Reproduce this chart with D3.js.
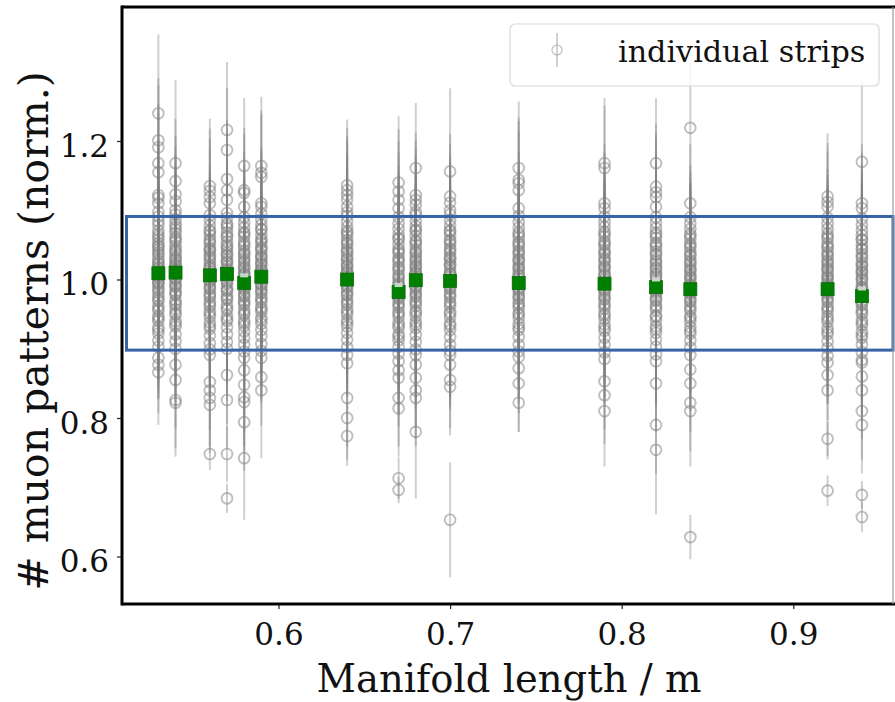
<!DOCTYPE html>
<html>
<head>
<meta charset="utf-8">
<script src="https://cdn.jsdelivr.net/npm/d3@7"></script>
<style>
  html, body { margin: 0; padding: 0; background: #fff; }
  svg { display: block; }
  text { font-family: "DejaVu Serif", serif; fill: #111; }
</style>
</head>
<body>
<svg id="chart" width="895" height="702"></svg>
<script>
// manifold lengths (m) of the measured strips
const lengths = [0.53, 0.54, 0.56, 0.57, 0.58, 0.59, 0.64, 0.67, 0.68, 0.70, 0.74, 0.79, 0.82, 0.84, 0.92, 0.94];

// mean per manifold (green squares)
const meanVals = [1.009, 1.010, 1.006, 1.008, 0.995, 1.004, 1.000, 0.982, 0.999, 0.998, 0.995, 0.994, 0.989, 0.986, 0.986, 0.976];
// second (lighter) marker visible on some manifolds
const altVals = [null, null, null, null, 1.006, null, null, 0.992, null, null, null, null, 1.000, null, null, 0.987];

// bulk of the individual strips per manifold
const coreVals = [
  [1.098,1.091,1.084,1.079,1.071,1.066,1.058,1.053,1.047,1.043,1.036,1.031,1.027,1.022,1.018,1.013,1.011,1.006,1.002,0.997,0.993,0.988,0.981,0.976,0.969,0.962,0.955,0.947,0.940,0.931,0.922,0.912,0.903,1.062,1.049,1.039,1.024,1.016,1.004,0.995,0.985,0.972,0.958,0.944,0.927],
  [1.094,1.087,1.080,1.072,1.067,1.061,1.055,1.049,1.044,1.038,1.033,1.028,1.024,1.019,1.015,1.012,1.008,1.003,0.999,0.994,0.989,0.983,0.978,0.970,0.963,0.957,0.949,0.940,0.932,0.921,0.911,0.900,1.076,1.058,1.041,1.030,1.021,1.010,1.001,0.991,0.980,0.966,0.952,0.936],
  [1.093,1.086,1.078,1.071,1.064,1.058,1.052,1.046,1.041,1.036,1.030,1.026,1.021,1.016,1.012,1.008,1.004,1.000,0.996,0.991,0.986,0.980,0.974,0.968,0.961,0.954,0.946,0.938,0.929,0.919,0.908,0.899,1.069,1.055,1.043,1.033,1.018,1.006,0.998,0.988,0.977,0.964,0.950,0.933],
  [1.096,1.089,1.081,1.074,1.068,1.061,1.055,1.050,1.044,1.039,1.034,1.029,1.024,1.019,1.015,1.011,1.007,1.003,0.999,0.994,0.988,0.983,0.977,0.971,0.964,0.956,0.948,0.940,0.931,0.921,0.910,0.900,1.078,1.063,1.047,1.036,1.026,1.013,1.005,0.996,0.985,0.973,0.959,0.943],
  [1.090,1.082,1.075,1.068,1.062,1.055,1.048,1.042,1.036,1.031,1.025,1.020,1.015,1.010,1.006,1.002,0.998,0.994,0.990,0.985,0.980,0.975,0.969,0.963,0.956,0.949,0.941,0.933,0.925,0.916,0.906,0.896,1.066,1.051,1.038,1.027,1.017,1.008,0.996,0.987,0.977,0.966,0.952,0.937],
  [1.095,1.087,1.079,1.072,1.065,1.059,1.053,1.047,1.042,1.036,1.031,1.026,1.021,1.016,1.012,1.008,1.004,1.000,0.995,0.991,0.986,0.980,0.974,0.967,0.960,0.953,0.945,0.936,0.927,0.918,0.907,0.897,1.073,1.056,1.044,1.033,1.023,1.014,1.002,0.993,0.983,0.971,0.957,0.941],
  [1.092,1.084,1.076,1.070,1.063,1.057,1.051,1.045,1.039,1.034,1.028,1.023,1.018,1.013,1.009,1.005,1.001,0.997,0.993,0.988,0.983,0.977,0.971,0.964,0.957,0.949,0.941,0.932,0.923,0.913,0.902,1.067,1.053,1.041,1.030,1.020,1.011,0.999,0.990,0.979,0.967,0.953,0.937],
  [1.090,1.081,1.073,1.065,1.058,1.051,1.044,1.038,1.031,1.025,1.019,1.013,1.007,1.001,0.996,0.991,0.986,0.982,0.977,0.972,0.966,0.960,0.953,0.946,0.938,0.930,0.921,0.912,0.903,0.893,0.882,1.060,1.041,1.028,1.016,1.004,0.993,0.984,0.974,0.963,0.950,0.934,0.917],
  [1.093,1.085,1.077,1.070,1.063,1.056,1.050,1.044,1.038,1.033,1.027,1.022,1.017,1.012,1.008,1.004,1.000,0.996,0.991,0.986,0.981,0.975,0.969,0.962,0.955,0.947,0.939,0.930,0.920,0.910,0.899,1.072,1.054,1.040,1.029,1.019,1.010,0.998,0.989,0.978,0.966,0.952,0.935],
  [1.094,1.086,1.078,1.071,1.064,1.057,1.051,1.045,1.039,1.033,1.028,1.023,1.018,1.013,1.008,1.004,1.000,0.996,0.991,0.986,0.980,0.974,0.968,0.961,0.953,0.945,0.936,0.927,0.917,0.906,0.897,1.069,1.055,1.042,1.031,1.021,1.009,0.998,0.988,0.977,0.965,0.950,0.933],
  [1.092,1.083,1.075,1.068,1.061,1.054,1.048,1.042,1.036,1.030,1.025,1.020,1.015,1.010,1.005,1.001,0.997,0.993,0.988,0.983,0.978,0.972,0.966,0.959,0.952,0.944,0.936,0.927,0.917,0.906,0.896,1.065,1.051,1.039,1.028,1.017,1.007,0.995,0.986,0.975,0.963,0.949,0.931],
  [1.091,1.083,1.076,1.069,1.062,1.055,1.049,1.043,1.037,1.031,1.026,1.020,1.015,1.010,1.005,1.000,0.996,0.992,0.987,0.982,0.977,0.971,0.965,0.958,0.951,0.943,0.935,0.926,0.916,0.906,0.895,1.066,1.052,1.039,1.028,1.018,1.007,0.994,0.985,0.974,0.962,0.948,0.930],
  [1.090,1.082,1.074,1.067,1.060,1.053,1.047,1.041,1.035,1.029,1.023,1.018,1.013,1.008,1.003,0.999,0.995,0.990,0.985,0.980,0.975,0.969,0.963,0.956,0.948,0.940,0.932,0.923,0.913,0.903,0.892,1.064,1.050,1.037,1.026,1.016,1.006,0.993,0.983,0.972,0.960,0.946,0.928],
  [1.090,1.081,1.073,1.066,1.059,1.052,1.046,1.040,1.034,1.028,1.022,1.017,1.012,1.007,1.002,0.998,0.993,0.989,0.984,0.979,0.974,0.968,0.962,0.955,0.947,0.939,0.931,0.922,0.912,0.902,0.891,1.063,1.049,1.036,1.025,1.014,1.004,0.991,0.981,0.970,0.958,0.944,0.926],
  [1.089,1.081,1.073,1.066,1.059,1.052,1.046,1.040,1.034,1.028,1.022,1.017,1.012,1.007,1.002,0.998,0.994,0.989,0.984,0.979,0.974,0.968,0.961,0.954,0.947,0.939,0.930,0.921,0.911,0.901,0.890,1.062,1.048,1.036,1.025,1.015,1.004,0.991,0.982,0.971,0.958,0.943,0.925],
  [1.088,1.079,1.071,1.064,1.057,1.050,1.043,1.037,1.031,1.025,1.019,1.014,1.009,1.004,0.999,0.994,0.989,0.985,0.980,0.975,0.969,0.963,0.957,0.950,0.942,0.934,0.925,0.916,0.906,0.895,0.884,1.058,1.045,1.033,1.021,1.011,1.001,0.988,0.978,0.966,0.953,0.938,0.920]
];
// typical error of a strip in the bulk, per manifold
const coreErr = [0.075, 0.075, 0.07, 0.075, 0.075, 0.075, 0.07, 0.075, 0.075, 0.08, 0.075, 0.075, 0.075, 0.075, 0.07, 0.08];

// outlying strips: [value, error]
const outliers = [
  [[1.240,.114],[1.201,.09],[1.191,.09],[1.168,.085],[1.155,.085],[1.122,.08],[1.118,.08],[1.110,.08],[.887,.06],[.877,.07],[.866,.076]],
  [[1.168,.12],[1.142,.09],[1.123,.085],[1.113,.08],[1.100,.08],[.877,.06],[.855,.07],[.826,.07],[.822,.078]],
  [[1.135,.097],[1.128,.09],[1.119,.085],[1.110,.08],[.891,.06],[.852,.07],[.840,.07],[.829,.07],[.819,.07],[.748,.023]],
  [[1.216,.098],[1.187,.09],[1.145,.085],[1.129,.085],[1.115,.08],[.862,.07],[.826,.07],[.748,.04],[.684,.021]],
  [[1.164,.098],[1.129,.09],[1.125,.085],[1.105,.08],[.887,.06],[.869,.065],[.848,.07],[.830,.07],[.823,.07],[.794,.07],[.742,.089]],
  [[1.164,.10],[1.154,.09],[1.148,.09],[1.110,.08],[1.105,.08],[.887,.06],[.859,.07],[.840,.098]],
  [[1.136,.095],[1.129,.09],[1.122,.085],[1.115,.085],[1.105,.08],[1.097,.08],[.891,.06],[.879,.065],[.829,.07],[.800,.06],[.774,.043]],
  [[1.140,.096],[1.127,.09],[1.115,.085],[1.103,.08],[.869,.065],[.858,.07],[.829,.07],[.814,.07],[.713,.03],[.696,.019]],
  [[1.161,.094],[1.122,.09],[1.115,.085],[1.108,.08],[1.098,.08],[.891,.06],[.877,.065],[.858,.07],[.840,.07],[.829,.07],[.780,.096]],
  [[1.156,.12],[1.120,.09],[1.111,.085],[1.100,.08],[.891,.06],[.877,.065],[.855,.07],[.845,.07],[.653,.083]],
  [[1.161,.096],[1.144,.09],[1.139,.09],[1.129,.085],[1.103,.08],[.888,.06],[.872,.065],[.850,.07],[.822,.042]],
  [[1.168,.094],[1.161,.09],[1.110,.085],[1.103,.08],[.885,.06],[.853,.07],[.833,.07],[.810,.08]],
  [[1.168,.094],[1.134,.09],[1.126,.085],[1.119,.085],[1.105,.08],[.882,.06],[.850,.07],[.790,.07],[.754,.093]],
  [[1.219,.094],[1.110,.085],[.870,.06],[.850,.07],[.822,.07],[.810,.08],[.628,.032]],
  [[1.120,.091],[1.112,.085],[1.105,.08],[.880,.06],[.862,.065],[.840,.10],[.770,.025],[.695,.022]],
  [[1.170,.118],[1.110,.085],[1.103,.08],[.880,.06],[.860,.065],[.840,.07],[.810,.07],[.790,.07],[.689,.02],[.657,.022]]
];

const xTicks = [0.6, 0.7, 0.8, 0.9];
const yTicks = [0.6, 0.8, 1.0, 1.2];
const bandY = [0.898, 1.091];   // highlighted region
const legendLabel = "individual strips";

const svg = d3.select("#chart");
const plotL = 122, plotR = 894, plotT = 7, plotB = 604;

const x = d3.scaleLinear().domain([0.5088, 0.9587]).range([plotL, plotR]);
const y = d3.scaleLinear().domain([0.5314, 1.3935]).range([plotB, plotT]);

// flatten strips into points
const pts = [];
lengths.forEach((len, i) => {
  coreVals[i].forEach(v => pts.push({ x: len, v: v, e: coreErr[i] }));
  outliers[i].forEach(o => pts.push({ x: len, v: o[0], e: o[1] }));
});

const plot = svg.append("g");

plot.append("g").selectAll("line")
  .data(pts)
  .enter().append("line")
  .attr("x1", d => x(d.x)).attr("x2", d => x(d.x))
  .attr("y1", d => y(d.v + d.e)).attr("y2", d => y(d.v - d.e))
  .attr("stroke", "#808080")
  .attr("stroke-opacity", 0.38)
  .attr("stroke-width", 2);

plot.append("g").selectAll("circle")
  .data(pts)
  .enter().append("circle")
  .attr("cx", d => x(d.x)).attr("cy", d => y(d.v))
  .attr("r", 5.4)
  .attr("fill", "none")
  .attr("stroke", "#808080")
  .attr("stroke-opacity", 0.5)
  .attr("stroke-width", 1.9);

// means
plot.append("g").selectAll("rect")
  .data(lengths.map((len, i) => ({ x: len, v: meanVals[i] })))
  .enter().append("rect")
  .attr("x", d => x(d.x) - 6.5).attr("y", d => y(d.v) - 6.5)
  .attr("width", 13).attr("height", 13)
  .attr("fill", "#008000")
  .attr("stroke", "#0a6e0a").attr("stroke-width", 0.8);

plot.append("g").selectAll("rect")
  .data(lengths.map((len, i) => ({ x: len, v: altVals[i] })).filter(d => d.v !== null))
  .enter().append("rect")
  .attr("x", d => x(d.x) - 4).attr("y", d => y(d.v) - 2)
  .attr("width", 8).attr("height", 4)
  .attr("fill", "#c7d8c7");

// highlighted band
svg.append("rect")
  .attr("x", plotL + 4.5).attr("y", y(bandY[1]))
  .attr("width", plotR - 1 - (plotL + 4.5))
  .attr("height", y(bandY[0]) - y(bandY[1]))
  .attr("fill", "none")
  .attr("stroke", "#3864a6")
  .attr("stroke-width", 3);

// axes
const xAxis = svg.append("g")
  .attr("transform", `translate(0,${plotB})`)
  .call(d3.axisBottom(x).tickValues(xTicks).tickFormat(d3.format(".1f")).tickSize(5).tickPadding(14));
const yAxis = svg.append("g")
  .attr("transform", `translate(${plotL},0)`)
  .call(d3.axisLeft(y).tickValues(yTicks).tickFormat(d3.format(".1f")).tickSize(5).tickPadding(8));

[xAxis, yAxis].forEach(g => {
  g.select(".domain").remove();
  g.selectAll(".tick line").attr("stroke", "#222").attr("stroke-width", 1.2);
  g.selectAll(".tick text").attr("font-size", 31).attr("font-family", "DejaVu Serif").attr("fill", "#111");
});
yAxis.selectAll(".tick text").attr("dy", "0.5em");

// spines
svg.append("line").attr("x1", plotL).attr("x2", plotL).attr("y1", plotT - 1.5).attr("y2", plotB + 1.5)
  .attr("stroke", "#000").attr("stroke-width", 3);
svg.append("line").attr("x1", plotL).attr("x2", plotR + 1).attr("y1", plotB).attr("y2", plotB)
  .attr("stroke", "#000").attr("stroke-width", 3);
svg.append("line").attr("x1", plotL).attr("x2", plotR + 1).attr("y1", plotT).attr("y2", plotT)
  .attr("stroke", "#000").attr("stroke-width", 3);
svg.append("line").attr("x1", plotR - 1).attr("x2", plotR - 1).attr("y1", plotT).attr("y2", plotB)
  .attr("stroke", "#999").attr("stroke-width", 1.2);

// axis labels
svg.append("text")
  .attr("x", 509).attr("y", 692)
  .attr("text-anchor", "middle")
  .attr("font-size", 38.5)
  .text("Manifold length / m");

svg.append("text")
  .attr("transform", "translate(48,331) rotate(-90)")
  .attr("text-anchor", "middle")
  .attr("font-size", 41)
  .text("# muon patterns (norm.)");

// legend
const leg = svg.append("g");
leg.append("rect")
  .attr("x", 510).attr("y", 24).attr("width", 369).attr("height", 62)
  .attr("rx", 5)
  .attr("fill", "#fff").attr("fill-opacity", 0.8)
  .attr("stroke", "#d8d8d8").attr("stroke-width", 1.2);
leg.append("line")
  .attr("x1", 557).attr("x2", 557).attr("y1", 33).attr("y2", 67)
  .attr("stroke", "#808080").attr("stroke-opacity", 0.45).attr("stroke-width", 1.6);
leg.append("circle")
  .attr("cx", 557).attr("cy", 50).attr("r", 5)
  .attr("fill", "none").attr("stroke", "#808080").attr("stroke-opacity", 0.5).attr("stroke-width", 1.2);
leg.append("text")
  .attr("x", 618).attr("y", 62)
  .attr("font-size", 30.2)
  .text(legendLabel);
</script>
</body>
</html>
